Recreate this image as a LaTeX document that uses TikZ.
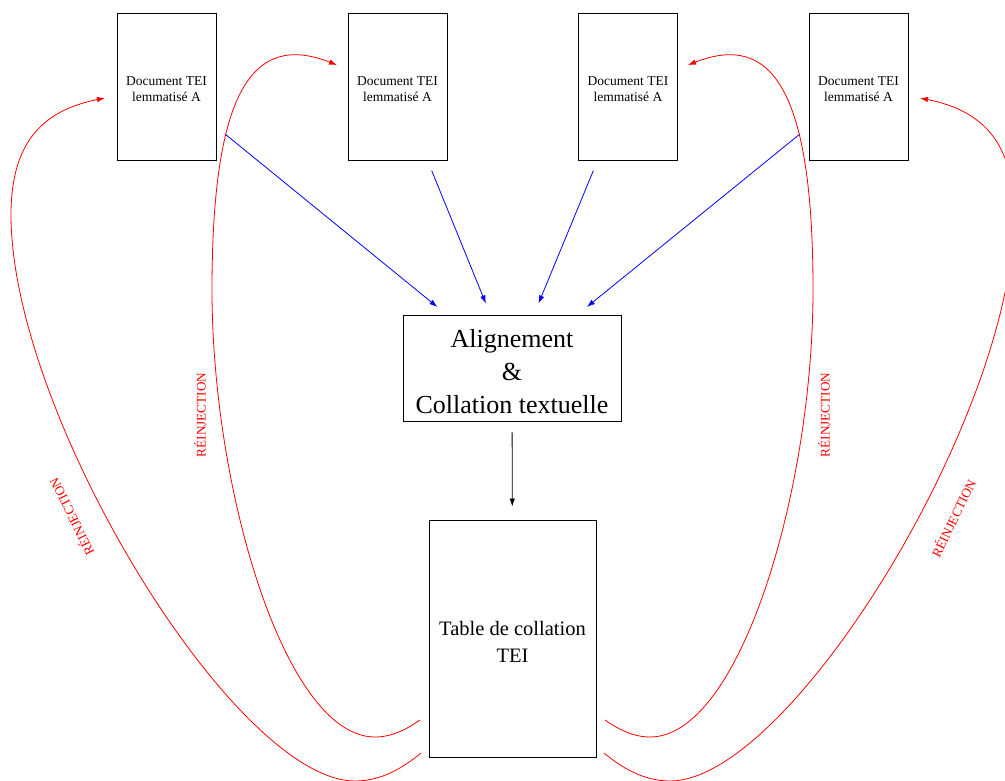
\documentclass[tikz,border=0pt]{standalone}
\usepackage{fontspec}
\setmainfont{Liberation Serif}
\usetikzlibrary{arrows.meta}
\newcommand\lowerstrut[1]{\rule{0pt}{#1}}
\begin{document}
\begin{tikzpicture}[x=1pt,y=-1pt,
  docbox/.style={draw, line width=0.9pt, minimum width=99pt, minimum height=147pt,
    inner sep=0pt, align=center, font=\fontsize{13.5}{16}\selectfont},
  bigbox/.style={draw, line width=0.9pt, minimum width=218pt, minimum height=106pt,
    inner sep=0pt, align=center, font=\fontsize{26}{33}\selectfont},
  tabbox/.style={draw, line width=0.9pt, minimum width=167pt, minimum height=237pt,
    inner sep=0pt, align=center, font=\fontsize{20.5}{27}\selectfont},
  flow/.style={-{Latex[length=8pt,width=5.5pt]}, line width=0.8pt,
    shorten <=11pt, shorten >=12pt},
  reinj/.style={red, line width=0.8pt, -{Latex[length=8pt,width=5.5pt]}},
  lbl/.style={red, inner sep=0pt, font=\fontsize{13.2}{15}\selectfont}]
\useasboundingbox (0,0) rectangle (1005,780);

% document boxes
\node[docbox] (d1) at (166.5,86.5) {\lowerstrut{14pt}Document TEI\\lemmatisé A};
\node[docbox] (d2) at (397.5,86.5) {\lowerstrut{14pt}Document TEI\\lemmatisé A};
\node[docbox] (d3) at (628,86.5) {\lowerstrut{14pt}Document TEI\\lemmatisé A};
\node[docbox] (d4) at (858.5,86.5) {\lowerstrut{14pt}Document TEI\\lemmatisé A};

% alignment box
\node[bigbox] (al) at (512,368) {\lowerstrut{25.5pt}Alignement\\\&\\Collation textuelle};

% collation table
\node[tabbox] (tab) at (512.5,638.5) {\lowerstrut{20.5pt}Table de collation\\TEI};

% blue arrows
\draw[flow, blue] (d1) -- (al);
\draw[flow, blue] (d2) -- (al);
\draw[flow, blue] (d3) -- (al);
\draw[flow, blue] (d4) -- (al);

% black arrow
\draw[flow, black, shorten >=13pt] (al) -- (tab);

% curve end points
\coordinate (oLs) at (421,753);
\coordinate (oLe) at (105,98);
\coordinate (iLs) at (420,720);
\coordinate (iLe) at (337,65);
\coordinate (oRs) at (604,753);
\coordinate (oRe) at (920,98);
\coordinate (iRs) at (605,720);
\coordinate (iRe) at (688,65);

% red reinjection curves
\draw[reinj] (oLs) .. controls (404,767) and (382,781) .. (355,781)
  .. controls (235,781) and (11,415) .. (11,215)
  .. controls (11,145) and (40,111) .. (oLe);
\draw[reinj] (iLs) .. controls (407,729) and (392,737) .. (375,737)
  .. controls (285,737) and (212,490) .. (212,290)
  .. controls (212,90) and (253,32) .. (iLe);
\draw[reinj] (oRs) .. controls (621,767) and (643,781) .. (670,781)
  .. controls (790,781) and (1014,415) .. (1014,215)
  .. controls (1014,145) and (985,111) .. (oRe);
\draw[reinj] (iRs) .. controls (618,729) and (633,737) .. (650,737)
  .. controls (740,737) and (813,490) .. (813,290)
  .. controls (813,90) and (772,32) .. (iRe);

% labels
\node[lbl, rotate=116] (l1) at (71,517) {RÉINJECTION};
\node[lbl, rotate=90] (l2) at (200,415) {RÉINJECTION};
\node[lbl, rotate=90] (l3) at (824,415) {RÉINJECTION};
\node[lbl, rotate=64] (l4) at (953,518) {RÉINJECTION};
\end{tikzpicture}
\end{document}
